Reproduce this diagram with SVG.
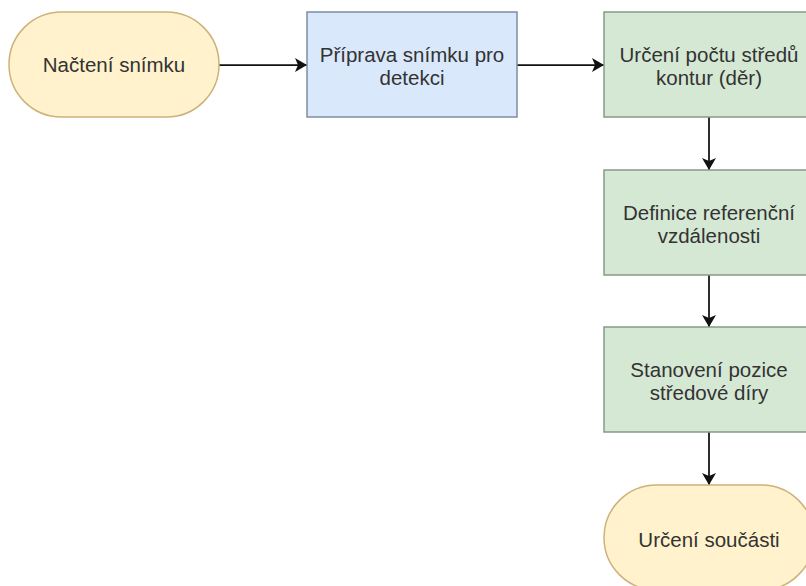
<svg xmlns="http://www.w3.org/2000/svg" width="806" height="586" viewBox="0 0 806 586">
  <defs>
    <marker id="arrow" markerUnits="userSpaceOnUse" viewBox="0 0 12 14" refX="12" refY="7" markerWidth="12" markerHeight="14" orient="auto">
      <path d="M0,0 L12,7 L0,14 L3,7 Z" fill="#111"/>
    </marker>
    <style>
      .terminal { fill: #fff2cc; stroke: #cdb27a; stroke-width: 1.5; }
      .prep { fill: #dae8fc; stroke: #7f8ca3; stroke-width: 1.5; }
      .step { fill: #d5e8d4; stroke: #879a86; stroke-width: 1.5; }
      .label { font-family: "Liberation Sans", Arial, sans-serif; font-size: 20.5px; fill: #333333; text-anchor: middle; }
      .edge { stroke: #111; stroke-width: 1.75; fill: none; marker-end: url(#arrow); }
    </style>
  </defs>
  <rect width="806" height="586" fill="#ffffff"/>

  <g id="connectors">
    <path class="edge" d="M219,65 L307,65"/>
    <path class="edge" d="M517,65 L604,65"/>
    <path class="edge" d="M709,117 L709,170"/>
    <path class="edge" d="M709,275 L709,327"/>
    <path class="edge" d="M709,432 L709,485"/>
  </g>

  <g id="nacteni-snimku">
    <rect class="terminal" x="9" y="12" width="210" height="105" rx="52.5" ry="52.5"/>
    <text class="label" x="114" y="72">Načtení snímku</text>
  </g>

  <g id="priprava-snimku">
    <rect class="prep" x="307" y="12" width="210" height="105"/>
    <text class="label" x="412" y="62">Příprava snímku pro</text>
    <text class="label" x="412" y="85">detekci</text>
  </g>

  <g id="urceni-poctu">
    <rect class="step" x="604" y="12" width="210" height="105"/>
    <text class="label" x="709" y="62">Určení počtu středů</text>
    <text class="label" x="709" y="85">kontur (děr)</text>
  </g>

  <g id="definice-vzdalenosti">
    <rect class="step" x="604" y="170" width="210" height="105"/>
    <text class="label" x="709" y="220">Definice referenční</text>
    <text class="label" x="709" y="243">vzdálenosti</text>
  </g>

  <g id="stanoveni-pozice">
    <rect class="step" x="604" y="327" width="210" height="105"/>
    <text class="label" x="709" y="377">Stanovení pozice</text>
    <text class="label" x="709" y="400">středové díry</text>
  </g>

  <g id="urceni-soucasti">
    <rect class="terminal" x="604" y="485" width="210" height="105" rx="52.5" ry="52.5"/>
    <text class="label" x="709" y="547">Určení součásti</text>
  </g>
</svg>
